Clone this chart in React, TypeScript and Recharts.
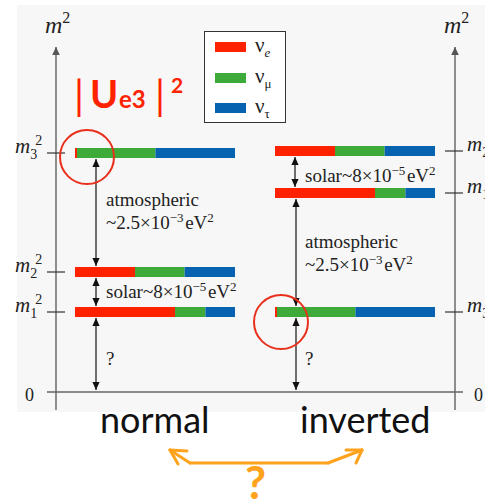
import React from 'react';
import { ComposedChart, XAxis, YAxis, ReferenceArea, ReferenceLine, ReferenceDot, Legend } from 'recharts';

const W = 485;
const H = 502;
const ZERO_PX = 392; // pixel row where m^2 = 0

// flavour content |U_ai|^2 of mass states 1, 2, 3
const flavourNames = ['e', 'μ', 'τ'];
const flavourColours = ['#ff2200', '#3daa3a', '#0763b0'];
const massNames = ['1', '2', '3'];
const shareE = [0.625, 0.375, 0.0125];
const shareMu = [0.19, 0.31, 0.49];
const shareTau = [0.185, 0.315, 0.4975];

// m^2 of the three states (schematic units)
const normalM2 = [80, 120, 239];
const invertedM2 = [199, 241, 80];

// orange hand drawn arrow below the labels
const orangePath = [
  { x: 170, y: -58 },
  { x: 190, y: -71 },
  { x: 328, y: -71 },
  { x: 362, y: -58 },
];
const orangeArms = [
  [{ x: 170, y: -58 }, { x: 187, y: -59 }],
  [{ x: 170, y: -58 }, { x: 178, y: -72 }],
  [{ x: 362, y: -58 }, { x: 346, y: -58 }],
  [{ x: 362, y: -58 }, { x: 356, y: -71 }],
];

const serif = '"Liberation Serif", "Times New Roman", serif';
const sans = 'Lato, "Open Sans", sans-serif';
const BAR_W = 160;
const HALF = 5;

const v = (py: number) => ZERO_PX - py;

const arrowShape = (both: boolean, color = '#111', sw = 1.2, hl = 8, hw = 3.6) => (p: any) => {
  const { x1, y1, x2, y2 } = p;
  const head = (tx: number, ty: number, fx: number, fy: number) => {
    const len = Math.hypot(tx - fx, ty - fy) || 1;
    const ux = (tx - fx) / len;
    const uy = (ty - fy) / len;
    const bx = tx - ux * hl;
    const by = ty - uy * hl;
    return (
      <polygon
        points={`${tx},${ty} ${bx - uy * hw},${by + ux * hw} ${bx + uy * hw},${by - ux * hw}`}
        fill={color}
      />
    );
  };
  return (
    <g>
      <line x1={x1} y1={y1} x2={x2} y2={y2} stroke={color} strokeWidth={sw} />
      {both && head(x1, y1, x2, y2)}
      {head(x2, y2, x1, y1)}
    </g>
  );
};

const massLabel = (sub: string) => (p: any) => (
  <text x={p.cx} y={p.cy} fontFamily={serif} fontSize={21} fill="#222">
    <tspan fontStyle="italic">m</tspan>
    <tspan fontSize={14} dy={6}>{sub}</tspan>
    <tspan fontSize={14} dx={-2} dy={-14}>2</tspan>
  </text>
);

const gapText = (lines: React.ReactNode[], size = 19) => (p: any) => (
  <text x={p.cx} y={p.cy} fontFamily={serif} fontSize={size} fill="#222">
    {lines.map((l, i) => (
      <tspan key={i} x={p.cx} dy={i === 0 ? 0 : 23}>{l}</tspan>
    ))}
  </text>
);

const sup = (s: string) => (
  <>
    <tspan fontSize={13} dy={-7}>{s}</tspan>
    <tspan dy={7}>{'\u200a'}</tspan>
  </>
);

const LegendBox = () => (
  <div
    style={{
      width: 82,
      height: 92,
      border: '1.5px solid #333',
      background: '#fff',
      boxSizing: 'border-box',
      paddingLeft: 10,
    }}
  >
    {flavourNames.map((f, i) => (
      <div key={f} style={{ display: 'flex', alignItems: 'center', height: 30.5 }}>
        <span style={{ display: 'inline-block', width: 31, height: 10, background: flavourColours[i] }} />
        <span style={{ marginLeft: 9, fontFamily: serif, fontSize: 21, color: '#222', lineHeight: 1 }}>
          ν
          <sub style={{ fontSize: 13, fontStyle: i === 0 ? 'italic' : 'normal' }}>{f}</sub>
        </span>
      </div>
    ))}
  </div>
);

const bars = (m2s: number[], xStart: number, key: string) => {
  const shares = [shareE, shareMu, shareTau];
  return m2s.flatMap((m, i) => {
    let cum = 0;
    return shares.map((s, f) => {
      const x1 = xStart + BAR_W * cum;
      cum += s[i];
      const x2 = xStart + BAR_W * cum;
      return (
        <ReferenceArea
          key={`${key}-${i}-${f}`}
          x1={x1}
          x2={x2}
          y1={m - HALF}
          y2={m + HALF}
          fill={flavourColours[f]}
          fillOpacity={1}
          stroke="none"
        />
      );
    });
  });
};

const ticks = (m2s: number[], xa: number, xb: number, key: string) =>
  m2s.map((m, i) => (
    <ReferenceLine
      key={`${key}-t${i}`}
      segment={[{ x: xa, y: m }, { x: xb, y: m }]}
      stroke="#333"
      strokeWidth={1.2}
    />
  ));

const tickLabels = (m2s: number[], x: number, key: string) =>
  m2s.map((m, i) => (
    <ReferenceDot key={`${key}-l${i}`} x={x} y={m} r={0} shape={massLabel(massNames[i])} />
  ));

const gapArrow = (x: number, from: number, to: number, key: string) => (
  <ReferenceLine
    key={key}
    segment={[{ x, y: from }, { x, y: to }]}
    shape={arrowShape(true)}
  />
);

const textAt = (x: number, py: number, shape: (p: any) => React.ReactElement, key: string) => (
  <ReferenceDot key={key} x={x} y={v(py)} r={0} shape={shape} />
);

export default function App() {
  const data = normalM2.map((m, i) => ({ x: 0, normal: m, inverted: invertedM2[i] }));
  const [n1, n2, n3] = normalM2;
  const [i1, i2, i3] = invertedM2;
  return (
    <div style={{ position: 'absolute', left: 0, top: 0, width: W, height: H, background: '#fff' }}>
      <ComposedChart width={W} height={H} data={data} margin={{ top: 0, right: 0, bottom: 0, left: 0 }}>
        <XAxis type="number" dataKey="x" domain={[0, W]} hide allowDataOverflow />
        <YAxis type="number" domain={[v(H), ZERO_PX]} hide allowDataOverflow />

        <ReferenceArea x1={17} x2={W} y1={v(412)} y2={v(5)} fill="#f7f7f7" fillOpacity={1} stroke="none" />

        {/* axes */}
        <ReferenceLine segment={[{ x: 56, y: v(410) }, { x: 56, y: v(47) }]} shape={arrowShape(false, '#555', 1.3, 8, 3.8)} />
        <ReferenceLine segment={[{ x: 455, y: v(410) }, { x: 455, y: v(47) }]} shape={arrowShape(false, '#555', 1.3, 8, 3.8)} />
        <ReferenceLine segment={[{ x: 47, y: 0 }, { x: 463, y: 0 }]} stroke="#666" strokeWidth={1.5} />

        {ticks(normalM2, 47, 65, 'n')}
        {ticks(invertedM2, 445, 463, 'i')}
        {tickLabels(normalM2, 15, 'n')}
        {tickLabels(invertedM2, 467, 'i')}

        {bars(normalM2, 75, 'n')}
        {bars(invertedM2, 275, 'i')}

        {/* gaps */}
        {gapArrow(96, n3 - 6, n2 + 6, 'na')}
        {gapArrow(96, n2 - 6, n1 + 6, 'ns')}
        {gapArrow(96, n1 - 6, 2, 'nq')}
        {gapArrow(296, i1 - 6, i3 + 6, 'ia')}
        {gapArrow(295, i2 - 6, i1 + 6, 'is')}
        {gapArrow(296, i3 - 6, 2, 'iq')}

        {textAt(106, 206, gapText(['atmospheric', <>~2.5×10{sup('−3')}eV{sup('2')}</>]), 'tna')}
        {textAt(305, 248, gapText(['atmospheric', <>~2.5×10{sup('−3')}eV{sup('2')}</>]), 'tia')}
        {textAt(106, 298, gapText([<>solar~8×10{sup('−5')}eV{sup('2')}</>]), 'tns')}
        {textAt(305, 182, gapText([<>solar~8×10{sup('−5')}eV{sup('2')}</>]), 'tis')}
        {textAt(106, 365, gapText(['?']), 'tnq')}
        {textAt(305, 365, gapText(['?']), 'tiq')}

        {/* axis titles and zeros */}
        {textAt(45, 33, (p: any) => (
          <text x={p.cx} y={p.cy} fontFamily={serif} fontSize={24} fill="#222">
            <tspan fontStyle="italic">m</tspan>
            <tspan fontSize={16} dy={-10}>2</tspan>
          </text>
        ), 'ml')}
        {textAt(444, 33, (p: any) => (
          <text x={p.cx} y={p.cy} fontFamily={serif} fontSize={24} fill="#222">
            <tspan fontStyle="italic">m</tspan>
            <tspan fontSize={16} dy={-10}>2</tspan>
          </text>
        ), 'mr')}
        {textAt(25, 401, gapText(['0'], 18), 'z0')}
        {textAt(474, 401, gapText(['0'], 18), 'z1')}

        {/* |Ue3|^2 note */}
        {textAt(74, 108, (p: any) => (
          <g fill="#ff2200" fontFamily={sans} fontWeight={700}>
            <text x={p.cx} y={p.cy + 2} fontSize={40} fontWeight={400}>|</text>
            <text x={p.cx + 16} y={p.cy} fontSize={38}>U</text>
            <text x={p.cx + 45} y={p.cy} fontSize={24}>e3</text>
            <text x={p.cx + 81} y={p.cy + 2} fontSize={40} fontWeight={400}>|</text>
            <text x={p.cx + 97} y={p.cy - 15} fontSize={21}>2</text>
          </g>
        ), 'ue3')}
        <ReferenceDot x={87} y={n3 - 4} r={27} fill="none" stroke="#e8301c" strokeWidth={2} />
        <ReferenceDot x={281} y={i3 - 10} r={27} fill="none" stroke="#e8301c" strokeWidth={2} />

        {/* bottom labels */}
        {textAt(100, 433, (p: any) => (
          <text x={p.cx} y={p.cy} fontFamily={sans} fontSize={36} fill="#111">normal</text>
        ), 'lbn')}
        {textAt(300, 433, (p: any) => (
          <text x={p.cx} y={p.cy} fontFamily={sans} fontSize={36} fill="#111">inverted</text>
        ), 'lbi')}

        {orangePath.slice(1).map((pt, i) => (
          <ReferenceLine
            key={`op${i}`}
            segment={[orangePath[i], pt]}
            stroke="#ffa21c"
            strokeWidth={3}
            strokeLinecap="round"
          />
        ))}
        {orangeArms.map((seg, i) => (
          <ReferenceLine key={`oa${i}`} segment={seg} stroke="#ffa21c" strokeWidth={3} strokeLinecap="round" />
        ))}
        {textAt(245, 499, (p: any) => (
          <text x={p.cx} y={p.cy} fontFamily={sans} fontWeight={700} fontSize={46} fill="#ffa21c">?</text>
        ), 'oq')}

        <Legend
          layout="horizontal"
          align="center"
          verticalAlign="middle"
          content={() => <LegendBox />}
          wrapperStyle={{ left: 204, top: 31, width: 82, height: 92 }}
        />
      </ComposedChart>
    </div>
  );
}
